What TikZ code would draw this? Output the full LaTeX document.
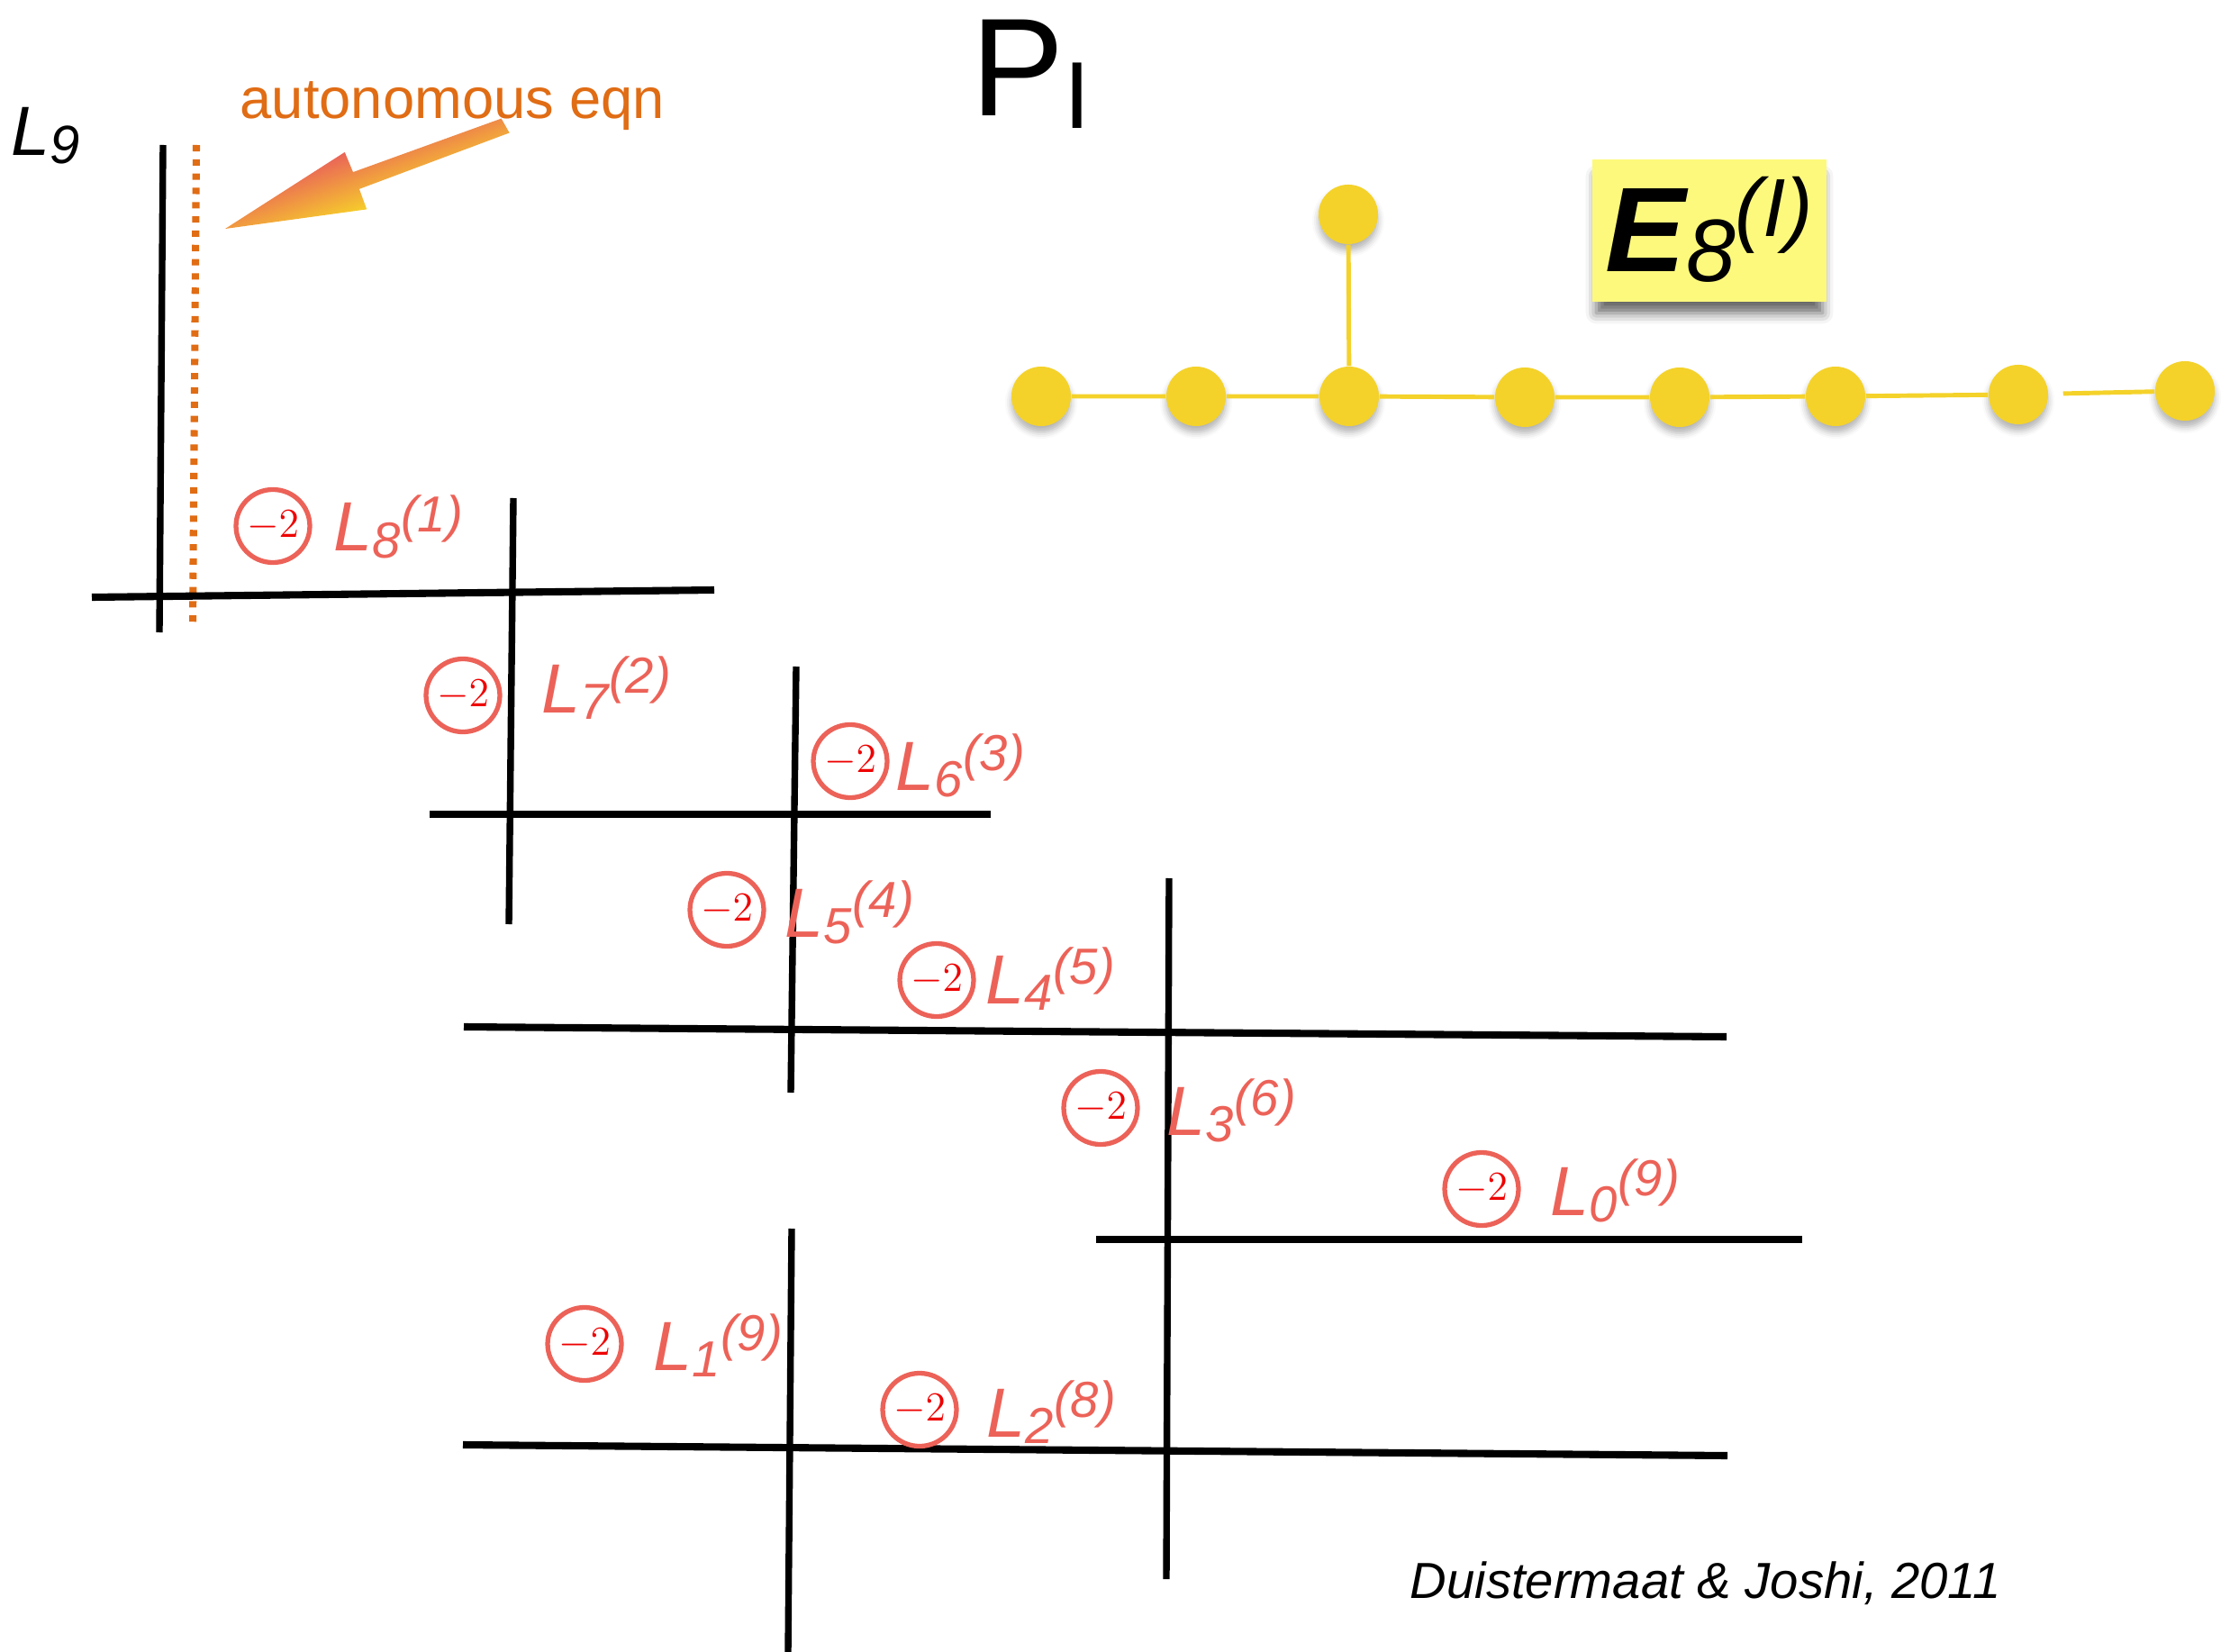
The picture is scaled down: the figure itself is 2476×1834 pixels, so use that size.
\RequirePackage{fix-cm}
\documentclass[tikz,border=0pt]{standalone}
\usepackage[no-math]{fontspec}
\setmainfont{Liberation Sans}
\usepackage{xcolor}
\usepackage{tikz}
\usetikzlibrary{shapes,arrows,positioning,shadows,shadows.blur}

\definecolor{salmon}{RGB}{236,98,88}
\definecolor{minred}{RGB}{238,0,0}
\definecolor{autoorange}{RGB}{224,108,20}
\definecolor{arrred}{RGB}{234,100,88}
\definecolor{arrorange}{RGB}{240,152,66}
\definecolor{arryellow}{RGB}{246,206,42}
\definecolor{dynyellow}{RGB}{244,210,42}
\definecolor{noteyellow}{RGB}{253,249,124}

\newcommand{\Lname}[2]{L\raisebox{-2pt}{\fontsize{16}{16}\selectfont #1}\raisebox{6pt}{\fontsize{16}{16}\selectfont (#2)}}

\begin{document}
\begin{tikzpicture}[x=0.01cm, y=-0.01cm,
  curve/.style={line width=2.1pt},
  hcurve/.style={line width=2.3pt},
  selfint/.style={ellipse, draw=salmon, line width=1.5pt, minimum width=0.76cm, minimum height=0.81cm, inner sep=0pt, text=minred, font=\fontsize{13}{13}\selectfont},
  lname/.style={anchor=base west, inner sep=0pt, text=salmon, font=\fontsize{22}{22}\selectfont\itshape},
  dyn/.style={circle, fill=dynyellow, minimum size=0.66cm, inner sep=0pt, blur shadow={shadow xshift=0pt, shadow yshift=-2pt, shadow blur radius=2pt, shadow opacity=30}},
  dynedge/.style={dynyellow, line width=1.4pt},
  notebox/.style={rectangle, fill=noteyellow, minimum width=2.59cm, minimum height=1.57cm, inner sep=0pt, text height=25.9pt, text depth=0pt, font=\fontsize{38}{38}\selectfont, blur shadow={shadow xshift=0pt, shadow yshift=-0.16cm, shadow blur radius=0.12cm, shadow opacity=60, shadow scale=0.97}}]
\useasboundingbox (0,0) rectangle (2476,1834);

\node[anchor=base west, inner sep=0pt] (title) at (1078,129) {\fontsize{44}{44}\selectfont P\raisebox{-3.7pt}{\fontsize{30}{30}\selectfont I}};
\node[anchor=base west, inner sep=0pt, font=\fontsize{22}{22}\selectfont\itshape] (l9) at (12,173) {L\raisebox{-2.5pt}{\fontsize{17}{17}\selectfont 9}};
\node[anchor=base west, inner sep=0pt, text=autoorange, font=\fontsize{18}{18}\selectfont] (auto) at (266,132) {autonomous eqn};
\node[anchor=base west, inner sep=0pt, font=\fontsize{16}{16}\selectfont\itshape] (ref) at (1565,1774) {Duistermaat \& Joshi, 2011};

\draw[curve] (181,161) -- (177,702);
\draw[autoorange, line width=2.3pt, dash pattern=on 2pt off 2.5pt] (218,161) -- (214,696);
\draw[hcurve] (102,663) -- (793,655);
\draw[curve] (570,553) -- (565,1026);
\draw[hcurve] (477,904) -- (1100,904);
\draw[curve] (884,740) -- (878,1213);
\draw[hcurve] (515,1140) -- (1917,1151);
\draw[curve] (1298,975) -- (1295,1753);
\draw[hcurve] (1217,1376) -- (2001,1376);
\draw[hcurve] (514,1604) -- (1918,1616);
\draw[curve] (879,1364) -- (875,1834);

\begin{scope}[transform canvas={shift={(250,254)}, rotate=20.2}]
\shade[top color=arrred, middle color=arrorange, bottom color=arryellow]
  (0,0) -- (154,-34) -- (155,-10) -- (330,-9) -- (333,9) -- (155,10) -- (155,34) -- cycle;
\end{scope}

\node[selfint] (c8) at (303,584) {$-2$};
\node[selfint] (c7) at (514,772) {$-2$};
\node[selfint] (c6) at (944,845) {$-2$};
\node[selfint] (c5) at (807,1010) {$-2$};
\node[selfint] (c4) at (1040,1088) {$-2$};
\node[selfint] (c3) at (1222,1230) {$-2$};
\node[selfint] (c0) at (1645,1320) {$-2$};
\node[selfint] (c1) at (649,1492) {$-2$};
\node[selfint] (c2) at (1021,1565) {$-2$};

\node[lname] (l8) at (370,612) {\Lname{8}{1}};
\node[lname] (l7) at (601,791) {\Lname{7}{2}};
\node[lname] (l6) at (994,877) {\Lname{6}{3}};
\node[lname] (l5) at (871,1040) {\Lname{5}{4}};
\node[lname] (l4) at (1094,1114) {\Lname{4}{5}};
\node[lname] (l3) at (1295,1260) {\Lname{3}{6}};
\node[lname] (l0) at (1721,1349) {\Lname{0}{9}};
\node[lname] (l1) at (725,1521) {\Lname{1}{9}};
\node[lname] (l2) at (1095,1595) {\Lname{2}{8}};

\node[dyn] (d1) at (1156,440) {};
\node[dyn] (d2) at (1328,440) {};
\node[dyn] (d3) at (1498,440) {};
\node[dyn] (d4) at (1693,441) {};
\node[dyn] (d5) at (1865,441) {};
\node[dyn] (d6) at (2038,440) {};
\node[dyn] (d7) at (2241,438) {};
\node[dyn] (d8) at (2426,434) {};
\node[dyn] (d0) at (1497,238) {};

\draw[dynedge] (d1) -- (d2) -- (d3) -- (d4) -- (d5) -- (d6) -- (d7);
\draw[dynedge, shorten <=0.16cm] (d7) -- (d8);
\draw[dynedge] (d3) -- (d0);

\node[notebox] (e8) at (1898,256) {{\bfseries\itshape E}\raisebox{-3pt}{\fontsize{28}{28}\selectfont\itshape 8}\raisebox{11pt}{\fontsize{26}{26}\selectfont\itshape (I)}};
\end{tikzpicture}
\end{document}
